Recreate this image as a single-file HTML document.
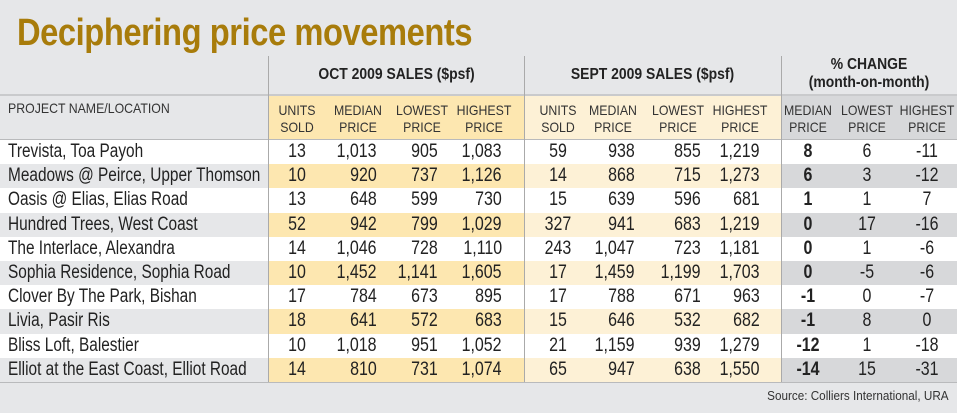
<!DOCTYPE html>
<html><head><meta charset="utf-8"><style>
*{margin:0;padding:0;box-sizing:border-box}
body{width:957px;height:413px;background:#e6e7e9;position:relative;overflow:hidden;font-family:"Liberation Sans Narrow","Liberation Sans",sans-serif;color:#222}
.t{position:absolute;left:17px;top:12px;font-family:"Liberation Sans",sans-serif;font-weight:bold;font-size:38px;color:#a87c0b;letter-spacing:-0.5px;transform:scaleX(0.86);transform-origin:left top;white-space:nowrap}
.a{position:absolute}
.h1{position:absolute;font-weight:bold;font-size:16px;text-align:center;line-height:18px;color:#222;transform:scaleX(0.87)}
.h2{position:absolute;font-size:14px;text-align:center;line-height:17px;top:102px;color:#333;white-space:nowrap;transform:scaleX(0.88)}
.row{position:absolute;left:0;width:957px;height:24.2px;font-size:19px;line-height:24px}
.row span{position:absolute;top:0;white-space:nowrap}
.n{left:8px;transform:scaleX(0.81);transform-origin:left center}
.c{text-align:center;width:60px;transform:scaleX(0.84)}
.r{text-align:right;transform:scaleX(0.84);transform-origin:right center}
.b{font-weight:bold}
</style></head><body>
<div class="t">Deciphering price movements</div>
<div class="a" style="left:269px;top:95px;width:255px;height:45px;background:#fde7b0"></div>
<div class="a" style="left:524px;top:95px;width:257px;height:45px;background:#fdf1d6"></div>
<div class="a" style="left:781px;top:95px;width:176px;height:45px;background:#d7d8da"></div>
<div class="a" style="left:0;top:140px;width:957px;height:242px;background:#fff"></div>
<div id="rows"></div>
<div class="a" style="left:0;top:94px;width:957px;height:2px;background:#c9cacc"></div>
<div class="a" style="left:0;top:139px;width:957px;height:1px;background:#b9babc"></div>
<div class="a" style="left:0;top:382px;width:957px;height:1px;background:#b9babc"></div>
<div class="a" style="left:268px;top:56px;width:1px;height:326px;background:#aaa"></div>
<div class="a" style="left:524px;top:56px;width:1px;height:326px;background:#aaa"></div>
<div class="a" style="left:781px;top:56px;width:1px;height:326px;background:#aaa"></div>

<div class="h1" style="left:269px;width:255px;top:66px">OCT 2009 SALES ($psf)</div>
<div class="h1" style="left:524px;width:257px;top:66px">SEPT 2009 SALES ($psf)</div>
<div class="h1" style="left:781px;width:176px;top:56px">% CHANGE<br>(month-on-month)</div>
<div class="h2" style="left:8px;text-align:left;top:100px;transform-origin:left center">PROJECT NAME/LOCATION</div>
<div class="h2" style="left:267px;width:60px">UNITS<br>SOLD</div>
<div class="h2" style="left:328px;width:60px">MEDIAN<br>PRICE</div>
<div class="h2" style="left:392px;width:60px">LOWEST<br>PRICE</div>
<div class="h2" style="left:452px;width:64px">HIGHEST<br>PRICE</div>
<div class="h2" style="left:528px;width:60px">UNITS<br>SOLD</div>
<div class="h2" style="left:583px;width:60px">MEDIAN<br>PRICE</div>
<div class="h2" style="left:648px;width:60px">LOWEST<br>PRICE</div>
<div class="h2" style="left:708px;width:64px">HIGHEST<br>PRICE</div>
<div class="h2" style="left:778px;width:60px">MEDIAN<br>PRICE</div>
<div class="h2" style="left:837px;width:60px">LOWEST<br>PRICE</div>
<div class="h2" style="left:895px;width:64px">HIGHEST<br>PRICE</div>
<div class="a" style="right:8px;top:388px;font-size:13px;color:#333;white-space:nowrap;transform:scaleX(0.9);transform-origin:right center">Source: Colliers International, URA</div>
<script>
var d=[["Trevista, Toa Payoh","13","1,013","905","1,083","59","938","855","1,219","8","6","-11"],
["Meadows @ Peirce, Upper Thomson","10","920","737","1,126","14","868","715","1,273","6","3","-12"],
["Oasis @ Elias, Elias Road","13","648","599","730","15","639","596","681","1","1","7"],
["Hundred Trees, West Coast","52","942","799","1,029","327","941","683","1,219","0","17","-16"],
["The Interlace, Alexandra","14","1,046","728","1,110","243","1,047","723","1,181","0","1","-6"],
["Sophia Residence, Sophia Road","10","1,452","1,141","1,605","17","1,459","1,199","1,703","0","-5","-6"],
["Clover By The Park, Bishan","17","784","673","895","17","788","671","963","-1","0","-7"],
["Livia, Pasir Ris","18","641","572","683","15","646","532","682","-1","8","0"],
["Bliss Loft, Balestier","10","1,018","951","1,052","21","1,159","939","1,279","-12","1","-18"],
["Elliot at the East Coast, Elliot Road","14","810","731","1,074","65","947","638","1,550","-14","15","-31"]];
var h="";
d.forEach(function(r,i){
 var top=140+i*24.2, alt=i%2==1;
 h+='<div class="row" style="top:'+top+'px">';
 if(alt){h+='<div class="a" style="left:0;top:0;width:269px;height:24.2px;background:#e6e7e9"></div><div class="a" style="left:269px;top:0;width:255px;height:24.2px;background:#fde7b0"></div><div class="a" style="left:524px;top:0;width:257px;height:24.2px;background:#fdf1d6"></div><div class="a" style="left:781px;top:0;width:176px;height:24.2px;background:#d7d8da"></div>';}
 h+='<span class="n">'+r[0]+'</span>';
 h+='<span class="c" style="left:267px">'+r[1]+'</span>';
 h+='<span class="r" style="right:'+(957-377)+'px">'+r[2]+'</span>';
 h+='<span class="r" style="right:'+(957-438)+'px">'+r[3]+'</span>';
 h+='<span class="r" style="right:'+(957-502)+'px">'+r[4]+'</span>';
 h+='<span class="c" style="left:528px">'+r[5]+'</span>';
 h+='<span class="r" style="right:'+(957-635)+'px">'+r[6]+'</span>';
 h+='<span class="r" style="right:'+(957-701)+'px">'+r[7]+'</span>';
 h+='<span class="r" style="right:'+(957-760)+'px">'+r[8]+'</span>';
 h+='<span class="c b" style="left:778px">'+r[9]+'</span>';
 h+='<span class="c" style="left:837px">'+r[10]+'</span>';
 h+='<span class="c" style="left:895px;width:64px">'+r[11]+'</span>';
 h+='</div>';
});
document.getElementById("rows").innerHTML=h;
</script>
</body></html>
